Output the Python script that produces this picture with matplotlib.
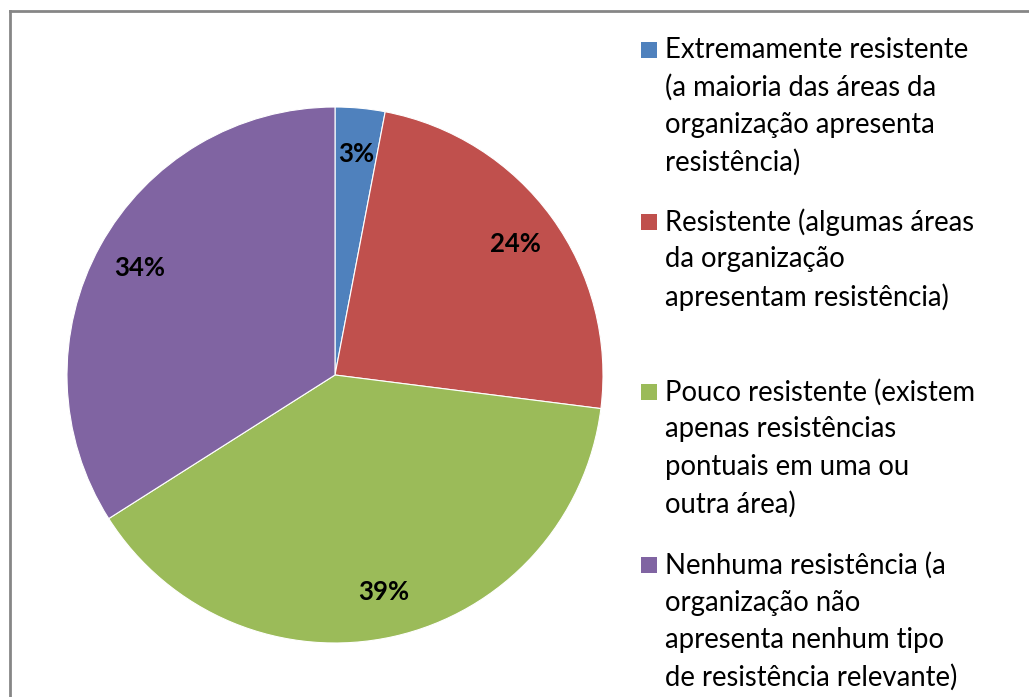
import matplotlib
matplotlib.use('Agg')
from matplotlib import pyplot as plt
from matplotlib.patches import Rectangle
from matplotlib.lines import Line2D

labels = ['Extremamente resistente\n(a maioria das áreas da\norganização apresenta\nresistência)',
          'Resistente (algumas áreas\nda organização\napresentam resistência)',
          'Pouco resistente (existem\napenas resistências\npontuais em uma ou\noutra área)',
          'Nenhuma resistência (a\norganização não\napresenta nenhum tipo\nde resistência relevante)']
values = [3, 24, 39, 34]
colors = ['#4F81BD', '#C0504D', '#9BBB59', '#8064A2']

W, H = 1029, 697
fig = plt.figure(figsize=(W / 100, H / 100), dpi=100)
plt.rcParams['font.family'] = ['Lato', 'DejaVu Sans']

# pie centre (335, 375) px, radius 268 px
ax = fig.add_axes([67 / W, (H - 643) / H, 536 / W, 536 / H])
wedges, texts, autotexts = ax.pie(values, colors=colors, startangle=90, counterclock=False,
                                  autopct='%1.0f%%', pctdistance=0.83,
                                  wedgeprops=dict(edgecolor='white', linewidth=0.8),
                                  textprops=dict(fontsize=18.5, fontweight='bold', color='black'))
ax.set_xlim(-1, 1)
ax.set_ylim(-1, 1)
ax.set_aspect('equal')
ax.axis('off')

# legend drawn by hand (Excel style, square beside first line)
first_line_y = [50, 222, 392, 565]
line_gap = 37.5
for lab, col, y0 in zip(labels, colors, first_line_y):
    fig.patches.append(Rectangle((641 / W, 1 - (y0 + 8) / H), 16 / W, 16 / H,
                                 transform=fig.transFigure, facecolor=col, edgecolor='none'))
    for i, line in enumerate(lab.split('\n')):
        fig.text(665 / W, 1 - (y0 + i * line_gap) / H, line, fontsize=19.8,
                 va='center', ha='left', color='black')

# chart frame (left and top edges visible)
fig.lines.append(Line2D([9.5 / W, 9.5 / W], [0, 1 - 11 / H], transform=fig.transFigure,
                        color='#868686', linewidth=2))
fig.lines.append(Line2D([9.5 / W, 1], [1 - 11 / H, 1 - 11 / H], transform=fig.transFigure,
                        color='#868686', linewidth=2))

fig.savefig('out.png', dpi=100)
